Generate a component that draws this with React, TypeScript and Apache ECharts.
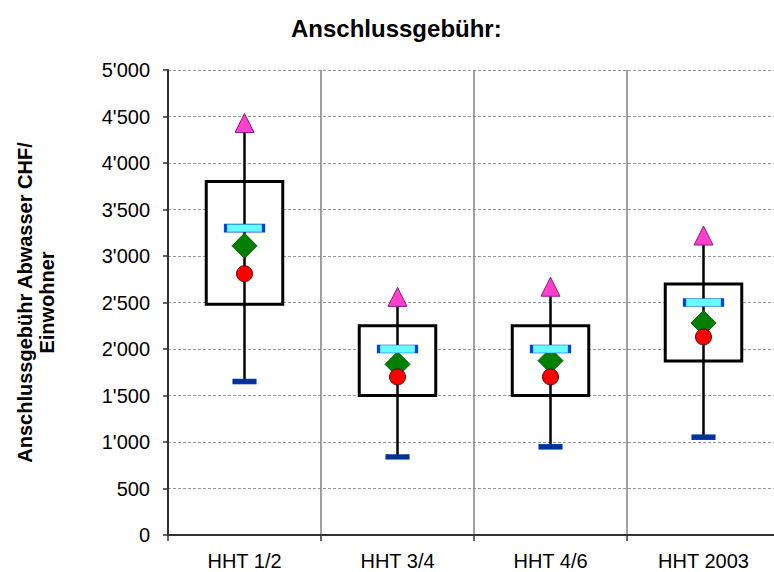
import React, { useEffect, useRef } from "react";
import * as echarts from "echarts";

const categories = ["HHT 1/2", "HHT 3/4", "HHT 4/6", "HHT 2003"];
const maxValues = [4430, 2560, 2670, 3220];
const q3Values = [3800, 2250, 2250, 2700];
const medianValues = [3300, 2000, 2000, 2500];
const meanValues = [3110, 1835, 1875, 2280];
const circleValues = [2810, 1700, 1700, 2130];
const q1Values = [2480, 1500, 1500, 1870];
const minValues = [1650, 840, 950, 1050];

const FONT = "'Liberation Sans', Arial, Helvetica, sans-serif";

function fmt(v: number): string {
  if (v >= 1000) {
    const th = Math.floor(v / 1000);
    const rest = String(v % 1000).padStart(3, "0");
    return th + "'" + rest;
  }
  return String(v);
}

export default function App() {
  const ref = useRef<HTMLDivElement>(null);
  useEffect(() => {
    if (!ref.current) return;
    const chart = echarts.init(ref.current, null, { renderer: "svg" });
    const pairs = (arr: number[]) => arr.map((v, i) => [categories[i], v]);
    chart.setOption({
      animation: false,
      backgroundColor: "#ffffff",
      title: {
        text: "Anschlussgebühr:",
        left: 291,
        top: 16,
        padding: 0,
        textStyle: { fontFamily: FONT, fontSize: 24, fontWeight: "bold", color: "#000" },
      },
      grid: { left: 168, right: -6, top: 70, bottom: 37, containLabel: false, outerBoundsMode: "none" },
      xAxis: {
        type: "category",
        data: categories,
        boundaryGap: true,
        axisLine: { show: true, lineStyle: { color: "#333", width: 2 } },
        axisTick: { show: true, length: 6, lineStyle: { color: "#333", width: 1.5 } },
        axisLabel: { fontFamily: FONT, fontSize: 20, color: "#000", margin: 16 },
        splitLine: { show: true, lineStyle: { color: "#808080", width: 1.5 } },
      },
      yAxis: {
        type: "value",
        min: 0,
        max: 5000,
        interval: 500,
        name: "Anschlussgebühr Abwasser CHF/\nEinwohner",
        nameLocation: "middle",
        nameGap: 110,
        nameTextStyle: { fontFamily: FONT, fontSize: 20, fontWeight: "bold", color: "#000", lineHeight: 22 },
        axisLine: { show: true, lineStyle: { color: "#333", width: 2 } },
        axisTick: { show: true, length: 5, lineStyle: { color: "#333", width: 1.5 } },
        axisLabel: { fontFamily: FONT, fontSize: 20, color: "#000", margin: 18, formatter: (v: number) => fmt(v) },
        splitLine: { show: true, lineStyle: { color: "#999", width: 1, type: [3, 2] } },
      },
      series: [
        {
          type: "custom",
          name: "Box",
          data: categories.map((c, i) => [i, minValues[i], maxValues[i], q1Values[i], q3Values[i]]),
          encode: { x: 0, y: [1, 2, 3, 4] },
          renderItem: (params: any, api: any) => {
            const i = api.value(0);
            const lo = api.coord([i, api.value(1)]);
            const hi = api.coord([i, api.value(2)]);
            const b = api.coord([i, api.value(3)]);
            const t = api.coord([i, api.value(4)]);
            const w = api.size([1, 0])[0] * 0.5;
            return {
              type: "group",
              children: [
                {
                  type: "rect",
                  shape: { x: t[0] - w / 2, y: t[1], width: w, height: b[1] - t[1] },
                  style: { fill: "#ffffff", stroke: "#000000", lineWidth: 3 },
                },
                {
                  type: "line",
                  shape: { x1: lo[0], y1: lo[1], x2: hi[0], y2: hi[1] },
                  style: { stroke: "#000000", lineWidth: 2.5 },
                },
              ],
            };
          },
          z: 2,
        },
        {
          type: "scatter",
          name: "Minimum",
          data: pairs(minValues),
          symbol: "rect",
          symbolSize: [22, 5],
          itemStyle: { color: "#003399", borderColor: "#0033aa", borderWidth: 1, opacity: 1 },
          z: 3,
        },
        {
          type: "scatter",
          name: "Mittelwert",
          data: pairs(meanValues),
          symbol: "diamond",
          symbolSize: [25, 25],
          itemStyle: { color: "#008000", borderColor: "#006000", borderWidth: 1, opacity: 1 },
          z: 4,
        },
        {
          type: "scatter",
          name: "Wert",
          data: pairs(circleValues),
          symbol: "circle",
          symbolSize: 16,
          itemStyle: { color: "#ff0000", borderColor: "#600000", borderWidth: 1, opacity: 1 },
          z: 5,
        },
        {
          type: "scatter",
          name: "Median",
          data: pairs(medianValues),
          symbol: "rect",
          symbolSize: [38, 8],
          itemStyle: { color: "#66ffff", borderColor: "#0044dd", borderWidth: 1.5, opacity: 1 },
          z: 6,
        },
        {
          type: "scatter",
          name: "Maximum",
          data: pairs(maxValues),
          symbol: "triangle",
          symbolSize: [19, 19],
          itemStyle: { color: "#ff40c8", borderColor: "#8b1a8b", borderWidth: 1, opacity: 1 },
          z: 7,
        },
      ],
    });
    return () => chart.dispose();
  }, []);
  return (
    <div
      ref={ref}
      style={{ position: "absolute", left: 0, top: 0, width: 774, height: 572 }}
    />
  );
}
